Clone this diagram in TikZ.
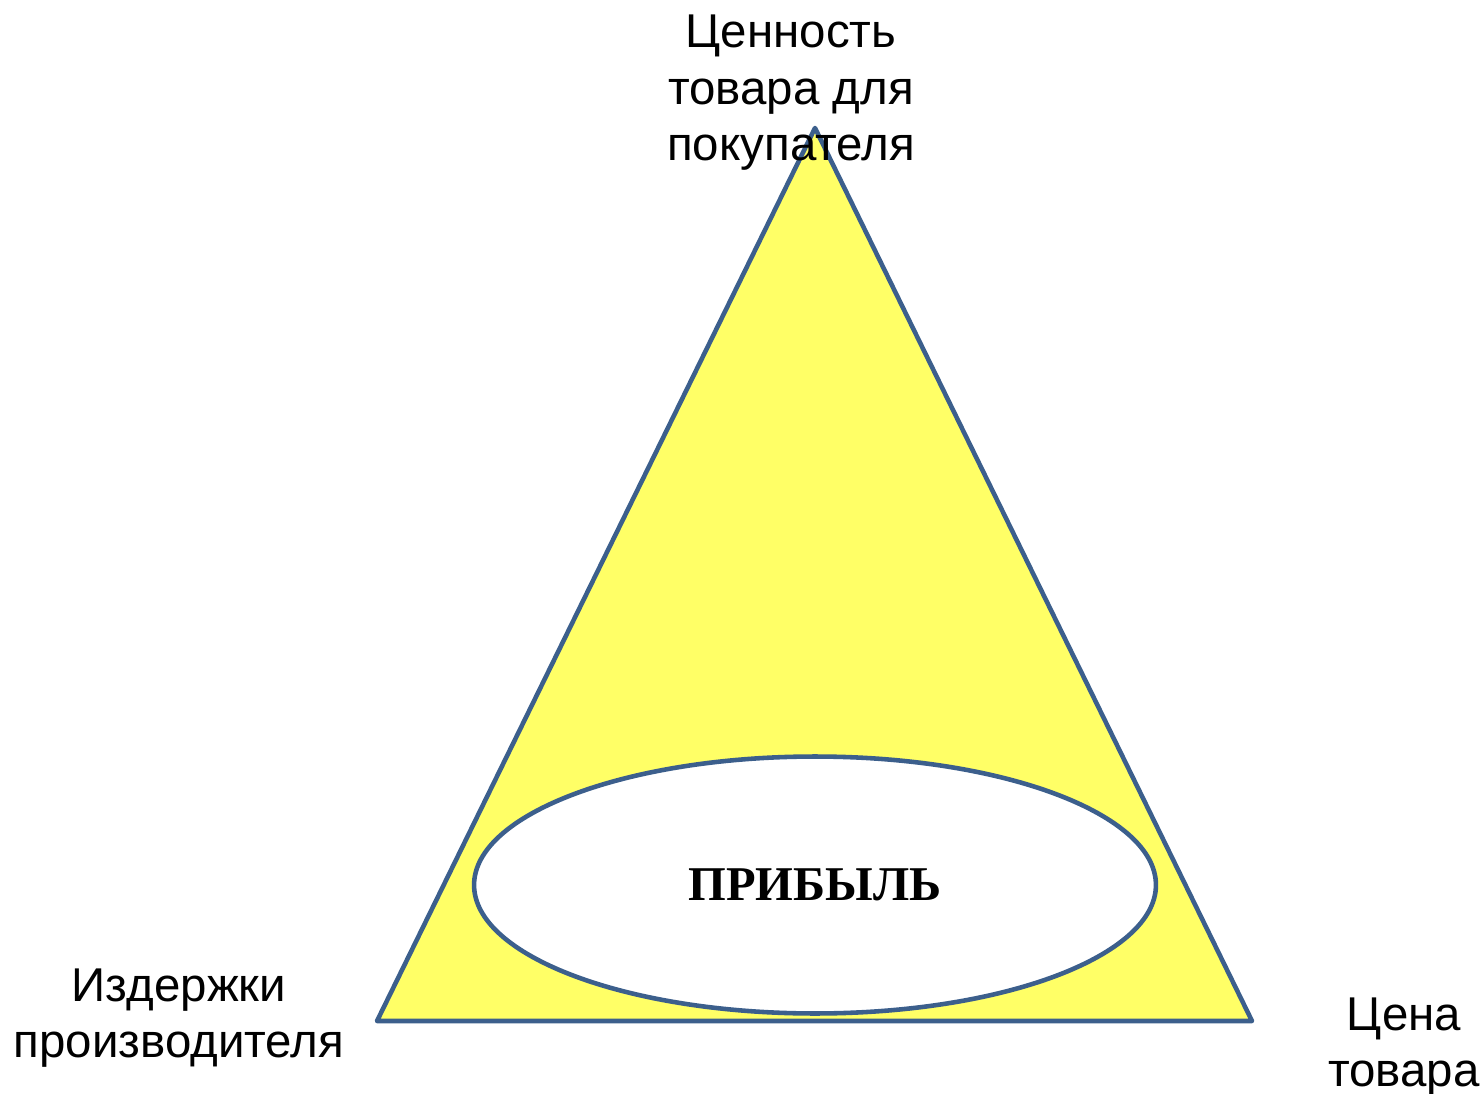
\documentclass[tikz,border=0pt]{standalone}
\usepackage{fontspec}
\setmainfont{Liberation Sans}
\newfontfamily\profitfont{Liberation Serif}
\usepackage{tikz}
\usetikzlibrary{shapes.geometric}
\definecolor{triangleFill}{HTML}{FFFF66}
\definecolor{outlineLine}{HTML}{3C5F8C}

\begin{document}
\begin{tikzpicture}[
  x=0.02cm, y=-0.02cm,
  font=\fontsize{27}{32.2}\selectfont,
  outline/.style={
    draw=outlineLine,
    line width=2.6pt,
    line join=round
  },
  corner label/.style={
    align=center,
    inner sep=0pt
  },
  profit area/.style={
    outline,
    ellipse,
    fill=white,
    inner sep=0pt,
    minimum width=13.64cm,
    minimum height=5.14cm,
    font=\fontsize{27.6}{32}\selectfont\profitfont\bfseries
  }
]
\useasboundingbox (0,0) rectangle (1484,1094);

% Corners of the triangle
\coordinate (apex) at (815,128);
\coordinate (baseLeft) at (377,1021);
\coordinate (baseRight) at (1252,1021);

\draw[outline, fill=triangleFill] (apex) -- (baseRight) -- (baseLeft) -- cycle;

% Profit in the lower part
\node[profit area] (profit) at (815,885) {ПРИБЫЛЬ};

% Labels at the corners
\node[corner label] (valueLabel) at (791,93)
  {Ценность\\товара для\\покупателя};
\node[corner label] (costLabel) at (179,1018)
  {Издержки\\производителя};
\node[corner label] (priceLabel) at (1404,1047)
  {Цена\\товара};

\end{tikzpicture}
\end{document}
